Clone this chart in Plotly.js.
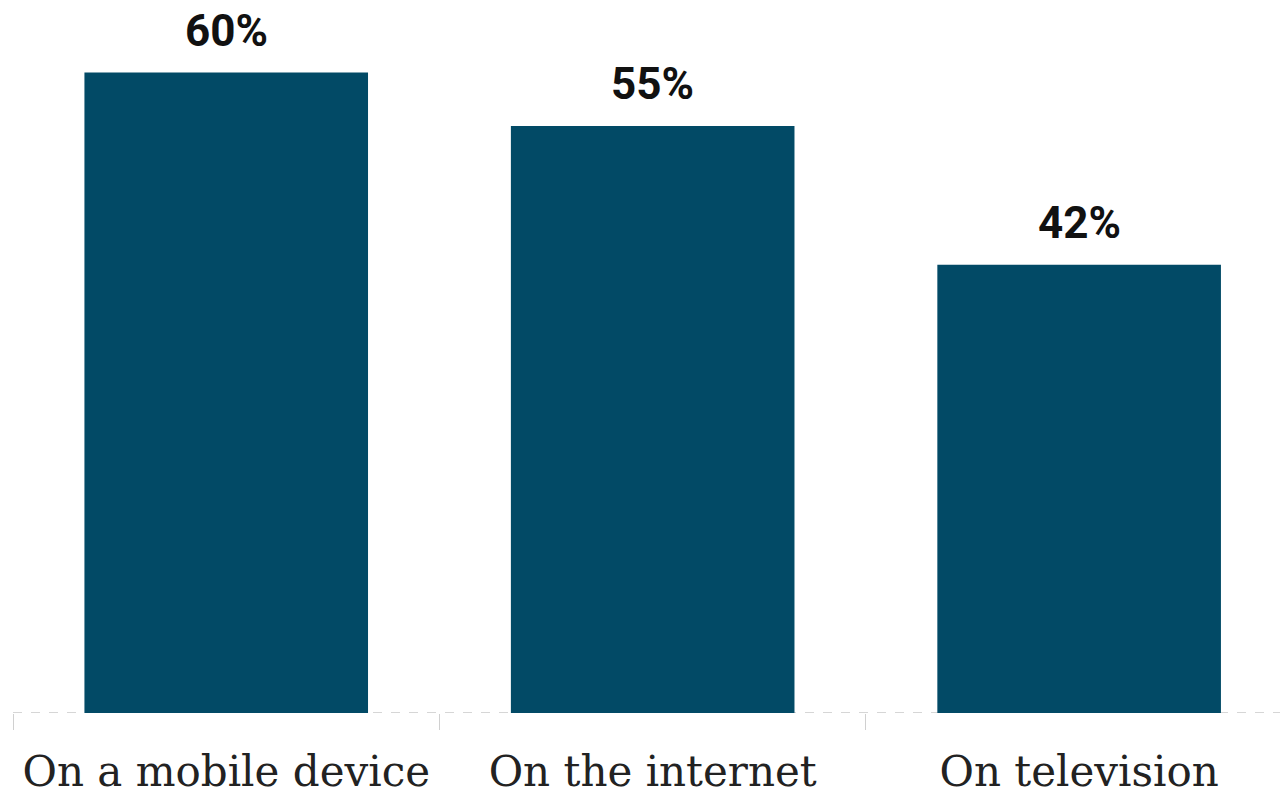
<!DOCTYPE html>
<html>
<head>
<meta charset="utf-8">
<script src="https://cdn.plot.ly/plotly-3.0.1.min.js"></script>
<style>html,body{margin:0;padding:0;background:#fff;}#chart{width:1280px;height:797px;}</style>
</head>
<body>
<div id="chart"></div>
<script>
const categories = ["On a mobile device", "On the internet", "On television"];
const values = [60, 55, 42];
const labels = ["60%", "55%", "42%"];

const trace = {
  type: "bar",
  x: categories,
  y: values,
  marker: {color: "#024a66"},
  hoverinfo: "skip"
};

const annotations = categories.map((c, i) => ({
  x: c, y: values[i], xref: "x", yref: "y",
  text: "<b>" + labels[i] + "</b>",
  showarrow: false, yanchor: "bottom", yshift: 14,
  font: {family: "Roboto, Arial, sans-serif", size: 44, color: "#111"}
}));

const layout = {
  width: 1280, height: 797,
  margin: {l: 13, r: 0, t: 0, b: 84},
  paper_bgcolor: "#fff", plot_bgcolor: "#fff",
  bargap: 0.335,
  showlegend: false,
  xaxis: {
    range: [-0.5, 2.471],
    tickson: "boundaries",
    ticks: "outside", ticklen: 16, tickwidth: 1, tickcolor: "#d0d0d0",
    showline: false, showgrid: false, zeroline: false,
    ticklabelstandoff: 30,
    tickfont: {family: "DejaVu Serif, serif", size: 42, color: "#222"}
  },
  yaxis: {
    range: [0, 66.8], visible: false, showgrid: false, zeroline: false
  },
  shapes: [{
    type: "line", xref: "paper", yref: "y", x0: 0, x1: 1, y0: 0, y1: 0,
    line: {color: "#d6d6d6", width: 2, dash: "dash"}, layer: "below"
  }],
  annotations: annotations
};

Plotly.newPlot("chart", [trace], layout, {staticPlot: true, displayModeBar: false});
</script>
</body>
</html>
